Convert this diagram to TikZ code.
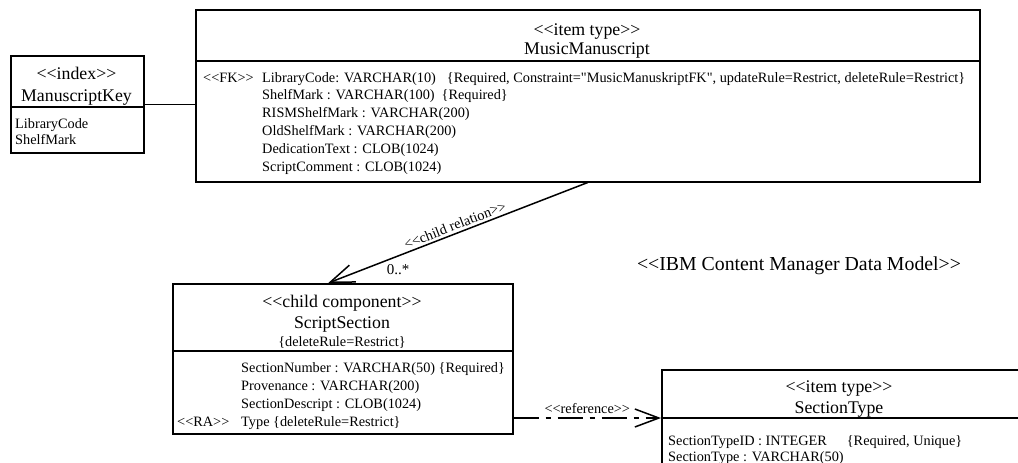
\documentclass[tikz,border=0pt]{standalone}
\usepackage{fontspec}
\newfontfamily\dgm{Liberation Serif}
\usetikzlibrary{arrows.meta,calc}

\tikzset{
  box/.style={draw, line width=1.5pt, inner sep=0pt, anchor=north west},
  sepline/.style={line width=2pt},
  link/.style={line width=1.5pt},
  barb/.style={-{Straight Barb[length=24pt,width=18pt]}},
  dashdot/.style={dash pattern=on 25pt off 7pt on 5pt off 7pt},
  attr/.style={anchor=base west, inner sep=0pt, font=\dgm\fontsize{14.3}{17}\selectfont},
  ttl/.style={anchor=base, inner sep=0pt, font=\dgm\fontsize{17.8}{21}\selectfont},
  note/.style={anchor=base, inner sep=0pt, font=\dgm\fontsize{14.3}{17}\selectfont},
  lbl/.style={inner sep=0pt, font=\dgm\fontsize{14.3}{17}\selectfont},
  big/.style={inner sep=0pt, font=\dgm\fontsize{19.8}{24}\selectfont},
}

\begin{document}
\begin{tikzpicture}[x=1pt,y=-1pt]
\useasboundingbox (0,0) rectangle (1018,463);
\begin{scope}
\clip (0,0) rectangle (1018,463);

% ---- ManuscriptKey (index)
\node[box, minimum width=133pt, minimum height=97pt] (mk) at (10,55) {};
\draw[sepline] ([yshift=-52pt]mk.north west) -- ([yshift=-52pt]mk.north east);
\node[ttl] (mkst) at (76.5,79) {<<index>>};
\node[ttl] (mkname) at (76.5,101) {ManuscriptKey};
\node[attr] (mka1) at (15,128) {LibraryCode};
\node[attr] (mka2) at (15,144) {ShelfMark};

% ---- MusicManuscript (item type)
\node[box, minimum width=784pt, minimum height=172pt] (mm) at (195,9) {};
\draw[sepline] ([yshift=-52pt]mm.north west) -- ([yshift=-52pt]mm.north east);
\node[ttl] (mmst) at (587,35) {<<item type>>};
\node[ttl] (mmname) at (587,54) {MusicManuscript};
\node[attr] (mmfk) at (203,82) {<<FK>>};
\node[attr] (mma1) at (262,82) {LibraryCode: VARCHAR(10)\hspace{11pt}\{Required, Constraint="MusicManuskriptFK", updateRule=Restrict, deleteRule=Restrict\}};
\node[attr] (mma2) at (262,99.8) {ShelfMark : VARCHAR(100)\hspace{7pt}\{Required\}};
\node[attr] (mma3) at (262,117.6) {RISMShelfMark : VARCHAR(200)};
\node[attr] (mma4) at (262,135.4) {OldShelfMark : VARCHAR(200)};
\node[attr] (mma5) at (262,153.2) {DedicationText : CLOB(1024)};
\node[attr] (mma6) at (262,171) {ScriptComment : CLOB(1024)};

% ---- ScriptSection (child component)
\node[box, minimum width=340pt, minimum height=150pt] (ss) at (172,283) {};
\draw[sepline] ([yshift=-68pt]ss.north west) -- ([yshift=-68pt]ss.north east);
\node[ttl] (ssst) at (342,307) {<<child component>>};
\node[ttl] (ssname) at (342,328) {ScriptSection};
\node[note] (ssrule) at (342,346) {\{deleteRule=Restrict\}};
\node[attr] (ssa1) at (241,372) {SectionNumber : VARCHAR(50) \{Required\}};
\node[attr] (ssa2) at (241,390) {Provenance : VARCHAR(200)};
\node[attr] (ssa3) at (241,408) {SectionDescript : CLOB(1024)};
\node[attr] (ssra) at (177,426) {<<RA>>};
\node[attr] (ssa4) at (241,426) {Type \{deleteRule=Restrict\}};

% ---- SectionType (item type), running past the page edge
\node[box, minimum width=400pt, minimum height=150pt] (st) at (661,369) {};
\draw[sepline] ([yshift=-49pt]st.north west) -- ([yshift=-49pt]st.north east);
\coordinate (stjoin) at ([yshift=-49pt]st.north west);
\node[ttl] (stst) at (839,392) {<<item type>>};
\node[ttl] (stname) at (839,413) {SectionType};
\node[attr] (sta1) at (668,445) {SectionTypeID : INTEGER\hspace{20pt}\{Required, Unique\}};
\node[attr] (sta2) at (668,461) {SectionType : VARCHAR(50)};

% ---- connectors
\draw[link] (mk.east) -- (mk.east -| mm.west);

\coordinate (crtip) at ([xshift=-14.5pt]ss.north);
\draw[link, barb] (mm.south) -- (crtip);
\path (crtip) -- (mm.south) node[lbl, pos=0.5, sloped, above=3pt] (crlbl) {<<child relation>>};
\node[lbl, font=\dgm\fontsize{15}{18}\selectfont] (mult) at (398,270) {0..*};

\draw[link, dashdot, barb] (ss.east |- stjoin) -- (stjoin)
  node[lbl, midway, above=4pt] (reflbl) {<<reference>>};

\node[big] (model) at (799,266) {<<IBM Content Manager Data Model>>};
\end{scope}
\end{tikzpicture}
\end{document}
